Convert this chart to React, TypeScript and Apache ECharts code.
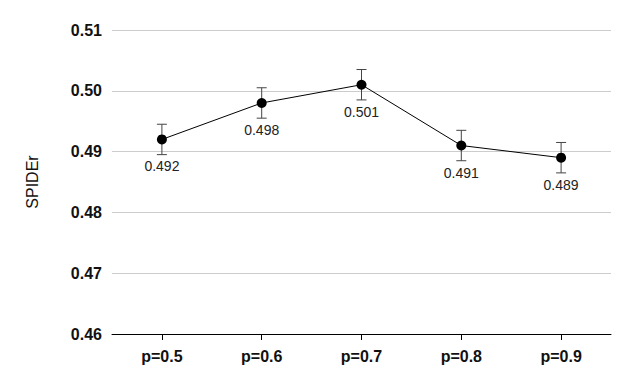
import React, { useEffect, useRef } from "react";
import * as echarts from "echarts";

const categories = ["p=0.5", "p=0.6", "p=0.7", "p=0.8", "p=0.9"];
const values = [0.492, 0.498, 0.501, 0.491, 0.489];
const errors = [0.0025, 0.0025, 0.0025, 0.0025, 0.0025];
const yTicks = { min: 0.46, max: 0.51, interval: 0.01 };

const FONT = "'Liberation Sans', Arial, sans-serif";

export default function App() {
  const ref = useRef<HTMLDivElement>(null);
  useEffect(() => {
    if (!ref.current) return;
    const chart = echarts.init(ref.current, null, { renderer: "svg" });
    const errData = values.map((v, i) => [i, v - errors[i], v + errors[i]]);
    chart.setOption({
      animation: false,
      grid: { left: 112, right: 20, top: 30, bottom: 56 },
      xAxis: {
        type: "category",
        data: categories,
        boundaryGap: true,
        axisLine: { show: true, lineStyle: { color: "#000", width: 1 } },
        axisTick: { show: true, alignWithLabel: true, length: 6, lineStyle: { color: "#000" } },
        axisLabel: { color: "#111", fontSize: 16, fontFamily: FONT, fontWeight: "bold", margin: 14 },
        splitLine: { show: false },
      },
      yAxis: {
        type: "value",
        min: yTicks.min,
        max: yTicks.max,
        interval: yTicks.interval,
        name: "SPIDEr",
        nameLocation: "middle",
        nameGap: 72,
        nameRotate: 90,
        nameTextStyle: { color: "#111", fontSize: 16, fontFamily: FONT },
        axisLine: { show: false },
        axisTick: { show: false },
        axisLabel: {
          color: "#111",
          fontSize: 16,
          fontFamily: FONT,
          fontWeight: "bold",
          margin: 10,
          formatter: (v: number) => v.toFixed(2),
        },
        splitLine: { show: true, lineStyle: { color: "#cccccc", width: 1 } },
      },
      series: [
        {
          type: "custom",
          data: errData,
          z: 1,
          renderItem: (params: any, api: any) => {
            const x = api.value(0);
            const lo = api.coord([x, api.value(1)]);
            const hi = api.coord([x, api.value(2)]);
            const hw = 5;
            const style = { stroke: "#444", lineWidth: 1 };
            return {
              type: "group",
              children: [
                { type: "line", shape: { x1: lo[0], y1: lo[1], x2: hi[0], y2: hi[1] }, style },
                { type: "line", shape: { x1: hi[0] - hw, y1: hi[1], x2: hi[0] + hw, y2: hi[1] }, style },
                { type: "line", shape: { x1: lo[0] - hw, y1: lo[1], x2: lo[0] + hw, y2: lo[1] }, style },
              ],
            };
          },
        },
        {
          type: "line",
          data: values,
          z: 2,
          symbol: "circle",
          symbolSize: 10,
          lineStyle: { color: "#000", width: 1 },
          itemStyle: { color: "#000" },
          label: {
            show: true,
            position: "bottom",
            distance: 15,
            color: "#222",
            fontSize: 14,
            fontFamily: FONT,
            formatter: (p: any) => p.value.toFixed(3),
          },
        },
      ],
    });
    return () => chart.dispose();
  }, []);
  return <div ref={ref} style={{ width: 631, height: 390, position: "absolute", left: 0, top: 0 }} />;
}
